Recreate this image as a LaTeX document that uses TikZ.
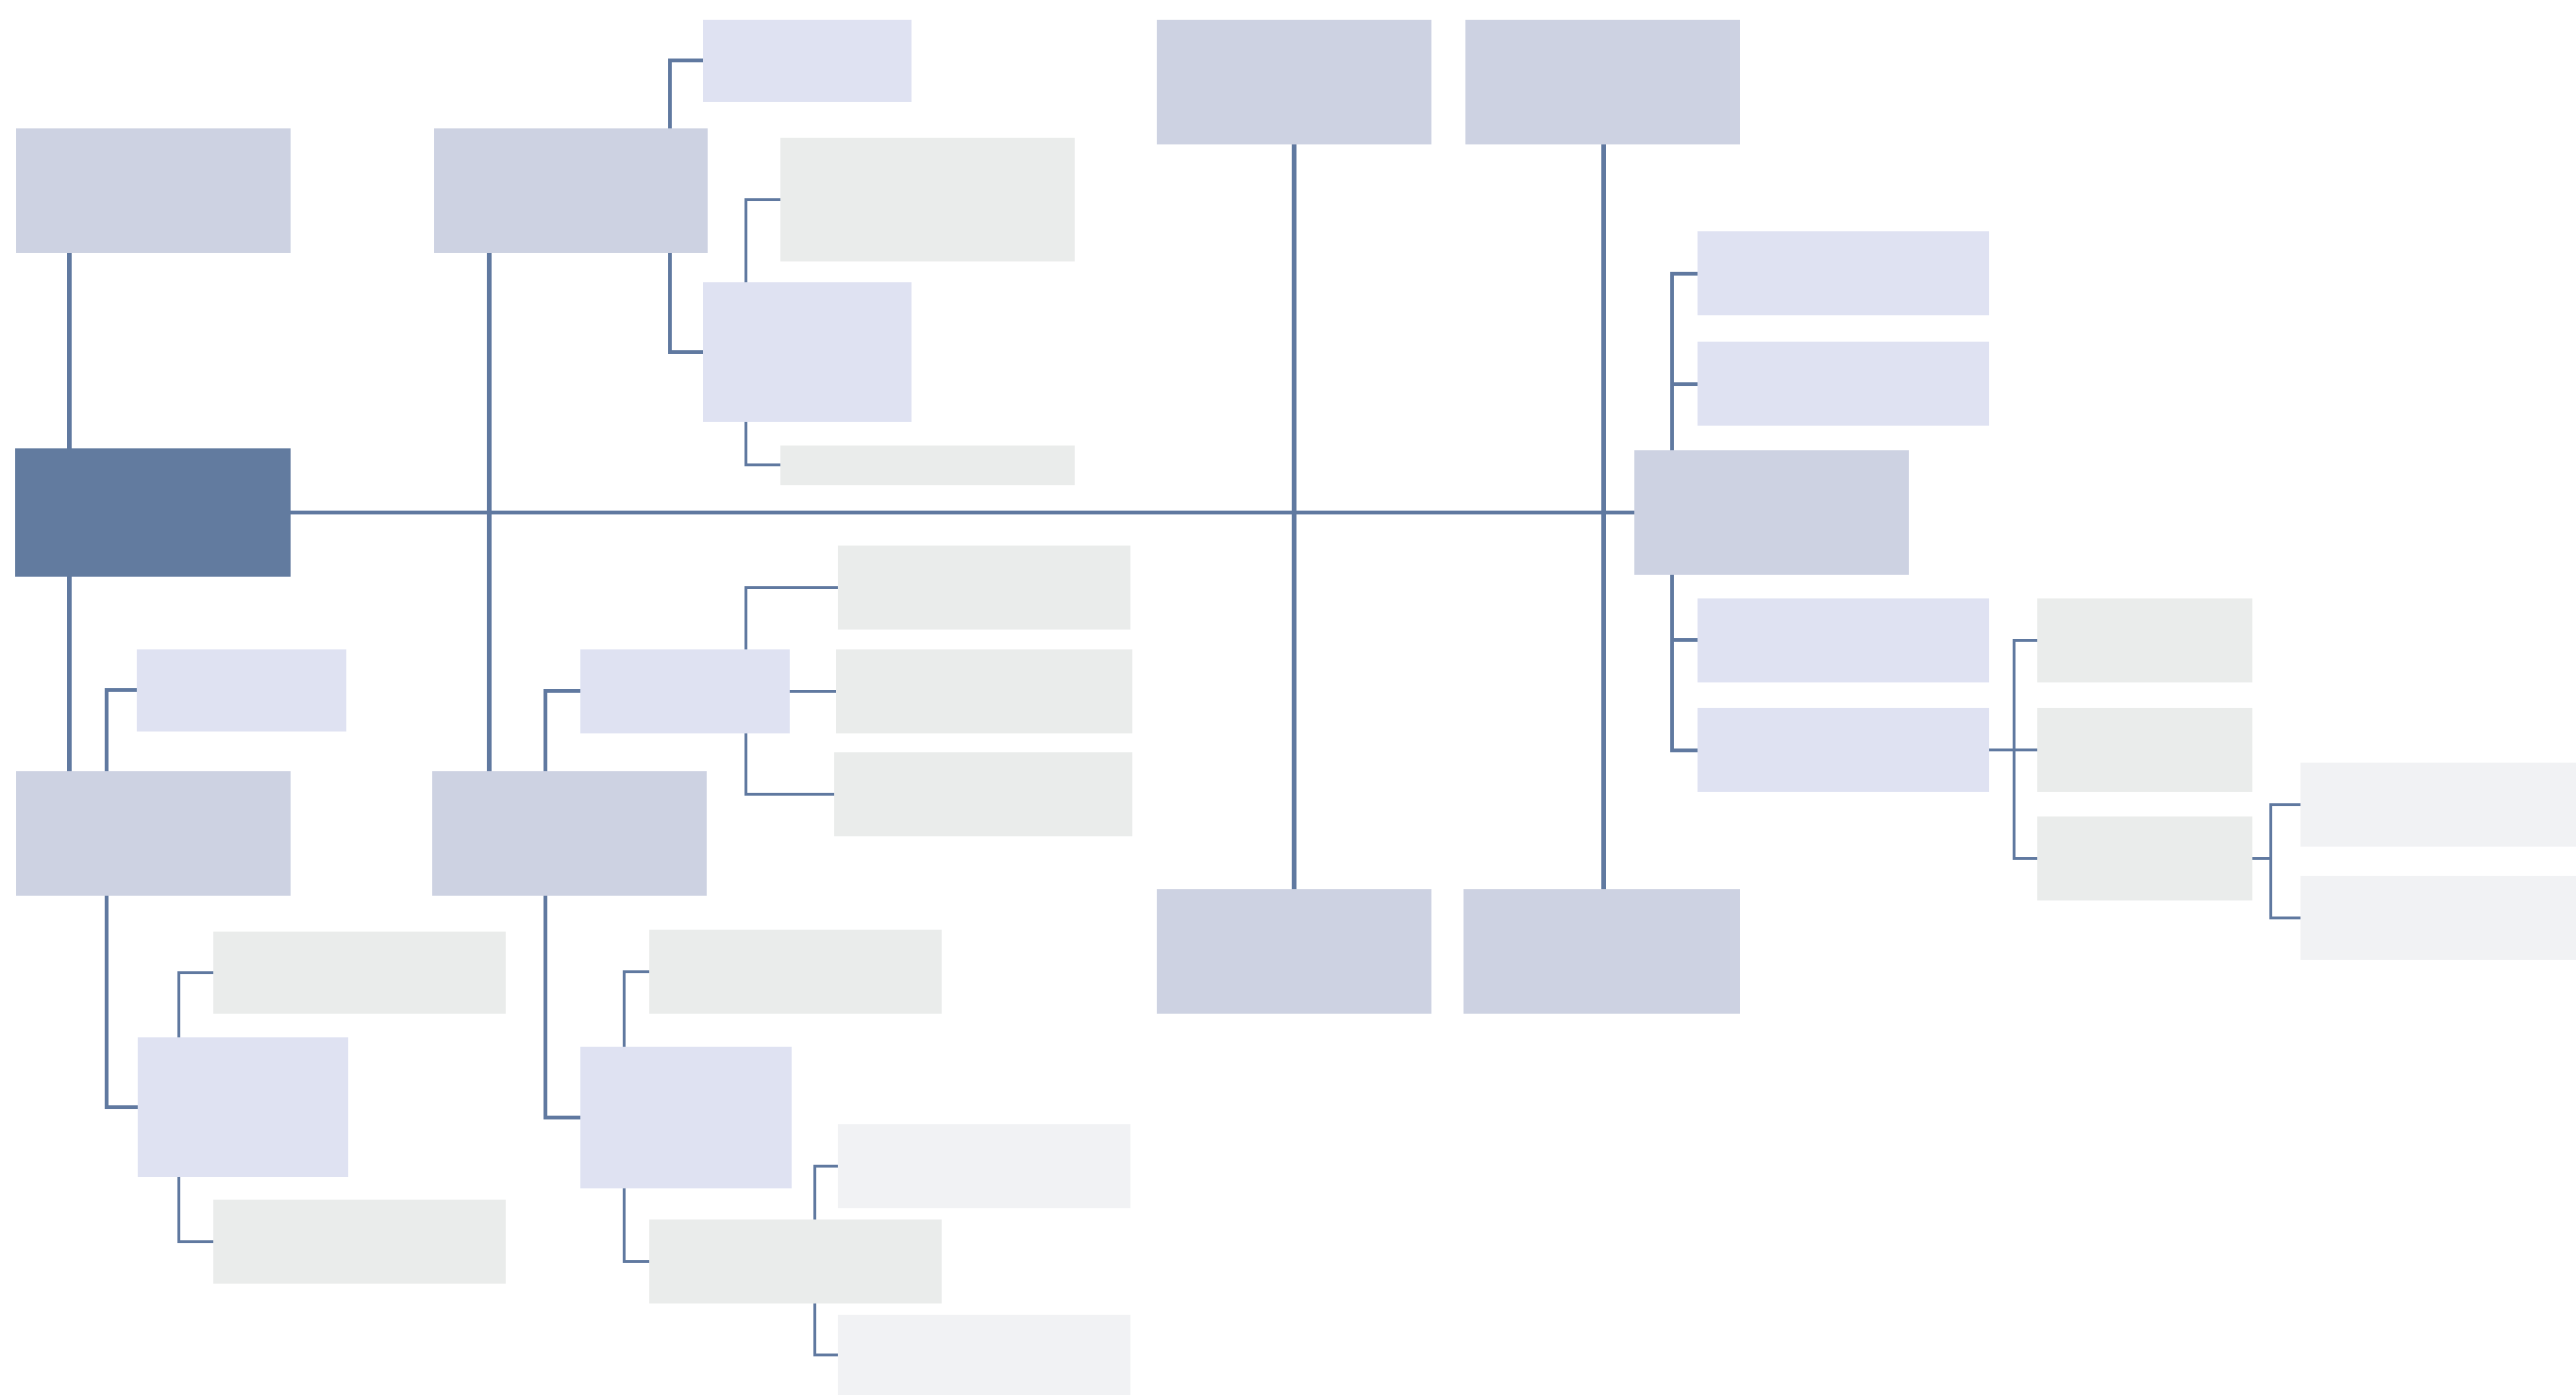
\documentclass[tikz,border=0pt]{standalone}
\usetikzlibrary{fit}
\definecolor{cdark}{HTML}{627B9F}
\definecolor{cone}{HTML}{CDD2E2}
\definecolor{ctwo}{HTML}{DFE2F2}
\definecolor{cgrey}{HTML}{EAECEB}
\definecolor{clight}{HTML}{F1F2F4}
\definecolor{cline}{HTML}{6079A0}
\tikzset{
  bx/.style={inner sep=0pt, outer sep=0pt, draw=none},
  rootbox/.style={bx, fill=cdark},
  onebox/.style={bx, fill=cone},
  twobox/.style={bx, fill=ctwo},
  greybox/.style={bx, fill=cgrey},
  lightbox/.style={bx, fill=clight},
  mainln/.style={draw=cline, line width=1.4pt},
  spineln/.style={draw=cline, line width=1.1pt},
  subln/.style={draw=cline, line width=1.15pt},
  thinln/.style={draw=cline, line width=0.8pt},
}
\begin{document}
\begin{tikzpicture}[x=0.017411cm, y=-0.017411cm]
\useasboundingbox (0,0) rectangle (1568,849);
% root and level-1
\node[rootbox, fit={(9,273)(177,351)}] (root) {};
\node[onebox, fit={(10,78)(177,154)}] (A) {};
\node[onebox, fit={(264,78)(431,154)}] (B) {};
\node[onebox, fit={(704,12)(871,88)}] (C) {};
\node[onebox, fit={(892,12)(1059,88)}] (D) {};
\node[onebox, fit={(10,469)(177,545)}] (E) {};
\node[onebox, fit={(263,469)(430,545)}] (F) {};
\node[onebox, fit={(704,541)(871,617)}] (G) {};
\node[onebox, fit={(891,541)(1059,617)}] (H) {};
\node[onebox, fit={(995,274)(1162,350)}] (I) {};
% B children
\node[twobox, fit={(428,12)(555,62)}] (B1) {};
\node[twobox, fit={(428,172)(555,257)}] (B2) {};
\node[greybox, fit={(475,84)(654,159)}] (B2a) {};
\node[greybox, fit={(475,271)(654,295)}] (B2b) {};
% E children
\node[twobox, fit={(83,395)(211,445)}] (E1) {};
\node[twobox, fit={(84,631)(212,716)}] (E2) {};
\node[greybox, fit={(130,567)(308,617)}] (E2a) {};
\node[greybox, fit={(130,730)(308,781)}] (E2b) {};
% F children
\node[twobox, fit={(353,395)(481,446)}] (F1) {};
\node[twobox, fit={(353,637)(482,723)}] (F2) {};
\node[greybox, fit={(510,332)(688,383)}] (F1a) {};
\node[greybox, fit={(509,395)(689,446)}] (F1b) {};
\node[greybox, fit={(508,458)(689,509)}] (F1c) {};
\node[greybox, fit={(395,566)(573,617)}] (F2a) {};
\node[greybox, fit={(395,742)(573,793)}] (F2b) {};
\node[lightbox, fit={(510,684)(688,735)}] (F2b1) {};
\node[lightbox, fit={(510,800)(688,849)}] (F2b2) {};
% I children
\node[twobox, fit={(1033,141)(1211,192)}] (I1) {};
\node[twobox, fit={(1033,208)(1211,259)}] (I2) {};
\node[twobox, fit={(1033,364)(1211,415)}] (I3) {};
\node[twobox, fit={(1033,431)(1211,482)}] (I4) {};
\node[greybox, fit={(1240,364)(1371,415)}] (I4a) {};
\node[greybox, fit={(1240,431)(1371,482)}] (I4b) {};
\node[greybox, fit={(1240,497)(1371,548)}] (I4c) {};
\node[lightbox, fit={(1400,464)(1568,515)}] (I4c1) {};
\node[lightbox, fit={(1400,533)(1568,584)}] (I4c2) {};
% main connectors
\draw[spineln] (root.east) -- (I.west);
\draw[mainln] (42,0 |- A.south) -- (42,0 |- root.north);
\draw[mainln] (42,0 |- root.south) -- (42,0 |- E.north);
\draw[mainln] (298,0 |- B.south) -- (298,0 |- F.north);
\draw[mainln] (C.south) -- (G.north);
\draw[mainln] (976,0 |- D.south) -- (976,0 |- H.north);
% B branch
\draw[subln] (408,0 |- B.north) |- (B1.west);
\draw[subln] (408,0 |- B.south) |- (B2.west);
\draw[thinln] (454,0 |- B2.north) |- (B2a.west);
\draw[thinln] (454,0 |- B2.south) |- (B2b.west);
% E branch
\draw[subln] (65,0 |- E.north) |- (E1.west);
\draw[subln] (65,0 |- E.south) |- (E2.west);
\draw[thinln] (109,0 |- E2.north) |- (E2a.west);
\draw[thinln] (109,0 |- E2.south) |- (E2b.west);
% F branch
\draw[subln] (332,0 |- F.north) |- (F1.west);
\draw[subln] (332,0 |- F.south) |- (F2.west);
\draw[thinln] (454,0 |- F1.north) |- (F1a.west);
\draw[thinln] (F1.east) -- (F1b.west);
\draw[thinln] (454,0 |- F1.south) |- (F1c.west);
\draw[thinln] (380,0 |- F2.north) |- (F2a.west);
\draw[thinln] (380,0 |- F2.south) |- (F2b.west);
\draw[thinln] (496,0 |- F2b.north) |- (F2b1.west);
\draw[thinln] (496,0 |- F2b.south) |- (F2b2.west);
% I branch
\draw[subln] (1018,0 |- I.north) |- (I1.west);
\draw[subln] (1018,0 |- I2.west) -- (I2.west);
\draw[subln] (1018,0 |- I.south) |- (I4.west);
\draw[subln] (1018,0 |- I3.west) -- (I3.west);
\coordinate (j1) at (1226,0 |- I4.east);
\draw[thinln] (I4.east) -- (j1);
\draw[thinln] (j1) |- (I4a.west);
\draw[thinln] (j1) |- (I4c.west);
\draw[thinln] (j1) -- (I4b.west);
\coordinate (j2) at (1382,0 |- I4c.east);
\draw[thinln] (I4c.east) -- (j2);
\draw[thinln] (j2) |- (I4c1.west);
\draw[thinln] (j2) |- (I4c2.west);
\end{tikzpicture}
\end{document}
